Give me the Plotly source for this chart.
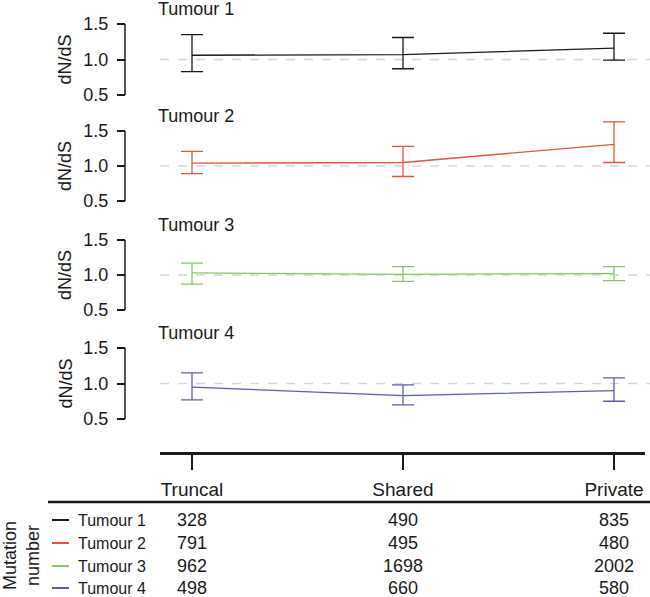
import plotly.graph_objects as go

# categories and labels
stages = ["Truncal", "Shared", "Private"]
tumours = ["Tumour 1", "Tumour 2", "Tumour 3", "Tumour 4"]
colours = ["#1a1a1a", "#e4553f", "#86c56a", "#5c5fa8"]

# dN/dS estimate with lower / upper confidence bounds per tumour
t1_est = [1.06, 1.07, 1.16]
t1_lo = [0.83, 0.87, 0.99]
t1_hi = [1.35, 1.31, 1.37]

t2_est = [1.04, 1.05, 1.31]
t2_lo = [0.89, 0.85, 1.05]
t2_hi = [1.21, 1.28, 1.63]

t3_est = [1.03, 1.01, 1.02]
t3_lo = [0.87, 0.91, 0.92]
t3_hi = [1.17, 1.12, 1.12]

t4_est = [0.95, 0.83, 0.90]
t4_lo = [0.77, 0.70, 0.75]
t4_hi = [1.15, 0.98, 1.08]

# mutation numbers (table below the plot)
mut_t1 = [328, 490, 835]
mut_t2 = [791, 495, 480]
mut_t3 = [962, 1698, 2002]
mut_t4 = [498, 660, 580]

yticks = [0.5, 1.0, 1.5]
yticktext = ["0.5", "1.0", "1.5"]

W, H = 650, 597
FONT = "Liberation Sans, Arial, sans-serif"


def fy(p):
    return 1 - p / H


def fx(p):
    return p / W


est = [t1_est, t2_est, t3_est, t4_est]
lo = [t1_lo, t2_lo, t3_lo, t4_lo]
hi = [t1_hi, t2_hi, t3_hi, t4_hi]
muts = [mut_t1, mut_t2, mut_t3, mut_t4]

# pixel rows of the 1.5 and 0.5 ticks in each panel
top_tick = [24, 131, 240, 348]
bot_tick = [95, 201, 310, 419]
ylo, yhi = 0.3, 1.7
axis_x = 125

# x mapping: first category at px 192, step 211 px
x_left, x_right = 160, 645
x0_px, step = 192, 211
xrange = [(x_left - x0_px) / step, (x_right - x0_px) / step]

fig = go.Figure()
layout = dict(
    width=W, height=H, margin=dict(l=0, r=0, t=0, b=0),
    paper_bgcolor="white", plot_bgcolor="white",
    font=dict(family=FONT, color="#1a1a1a"),
    showlegend=False,
)
shapes = []
annotations = []

for i in range(4):
    n = i + 1
    ppu = bot_tick[i] - top_tick[i]
    top_px = top_tick[i] - (yhi - 1.5) * ppu
    bot_px = bot_tick[i] + (0.5 - ylo) * ppu
    one_px = (top_tick[i] + bot_tick[i]) / 2
    xa = "x" if n == 1 else f"x{n}"
    ya = "y" if n == 1 else f"y{n}"

    fig.add_trace(go.Scatter(
        x=[0, 1, 2], y=est[i], mode="lines",
        line=dict(color=colours[i], width=1.3),
        error_y=dict(
            type="data", symmetric=False,
            array=[h - e for h, e in zip(hi[i], est[i])],
            arrayminus=[e - l for e, l in zip(est[i], lo[i])],
            color=colours[i], thickness=1.3, width=11,
        ),
        xaxis=xa, yaxis=ya, cliponaxis=False,
    ))

    layout[f"yaxis{'' if n == 1 else n}"] = dict(
        domain=[fy(bot_px), fy(top_px)], range=[ylo, yhi],
        anchor="free", position=fx(axis_x),
        tickvals=yticks, ticktext=yticktext,
        ticks="outside", ticklen=8, tickwidth=1.5, tickcolor="#1a1a1a",
        ticklabelstandoff=5,
        showgrid=False, zeroline=False, showline=False,
        tickfont=dict(size=18, family=FONT, color="#1a1a1a"),
    )
    xax = dict(
        domain=[fx(x_left), fx(x_right)], range=xrange,
        showgrid=False, zeroline=False, anchor=ya,
    )
    if n == 4:
        xax.update(
            anchor="free", position=fy(453),
            tickvals=[0, 1, 2], ticktext=stages,
            ticks="outside", ticklen=15, tickwidth=2, tickcolor="#1a1a1a",
            ticklabelstandoff=3,
            showline=True, linewidth=2.5, linecolor="#1a1a1a",
            tickfont=dict(size=19, family=FONT, color="#1a1a1a"),
        )
    else:
        xax.update(visible=False)
    layout[f"xaxis{'' if n == 1 else n}"] = xax

    # y axis bracket from 0.5 to 1.5
    shapes.append(dict(type="line", xref="paper", yref=ya,
                       x0=fx(axis_x), x1=fx(axis_x), y0=0.5, y1=1.5,
                       line=dict(color="#1a1a1a", width=1.5)))
    # reference line at dN/dS = 1
    shapes.append(dict(type="line", xref="paper", yref=ya, layer="below",
                       x0=fx(x_left), x1=1, y0=1, y1=1,
                       line=dict(color="#d6d6d6", width=1.5, dash="dash")))

    annotations.append(dict(text=tumours[i], xref="paper", yref="paper",
                            x=fx(156), y=fy(top_tick[i] - 15),
                            xanchor="left", yanchor="middle", showarrow=False,
                            font=dict(size=18)))
    annotations.append(dict(text="dN/dS", xref="paper", yref="paper",
                            x=fx(65), y=fy(one_px), textangle=-90,
                            xanchor="center", yanchor="middle", showarrow=False,
                            font=dict(size=18)))

# table of mutation numbers
shapes.append(dict(type="line", xref="paper", yref="paper",
                   x0=fx(48), x1=1, y0=fy(502), y1=fy(502),
                   line=dict(color="#1a1a1a", width=2.5)))
row_px = [520, 543, 566, 588]
for i in range(4):
    shapes.append(dict(type="line", xref="paper", yref="paper",
                       x0=fx(52), x1=fx(69), y0=fy(row_px[i]), y1=fy(row_px[i]),
                       line=dict(color=colours[i], width=2)))
    annotations.append(dict(text=tumours[i], xref="paper", yref="paper",
                            x=fx(76), y=fy(row_px[i]), xanchor="left",
                            yanchor="middle", showarrow=False,
                            font=dict(size=16)))
    for j in range(3):
        annotations.append(dict(text=str(muts[i][j]), xref="x4", yref="paper",
                                x=j, y=fy(row_px[i]), xanchor="center",
                                yanchor="middle", showarrow=False,
                                font=dict(size=18)))
annotations.append(dict(text="Mutation<br>number", xref="paper", yref="paper",
                        x=fx(21), y=fy(556), textangle=-90,
                        xanchor="center", yanchor="middle", showarrow=False,
                        font=dict(size=18)))

layout["shapes"] = shapes
layout["annotations"] = annotations
fig.update_layout(**layout)
# drop the default 8px page margin so the figure fills the window
fig.write_html("out.html", config={"displayModeBar": False},
               post_script="document.body.style.margin='0';")
